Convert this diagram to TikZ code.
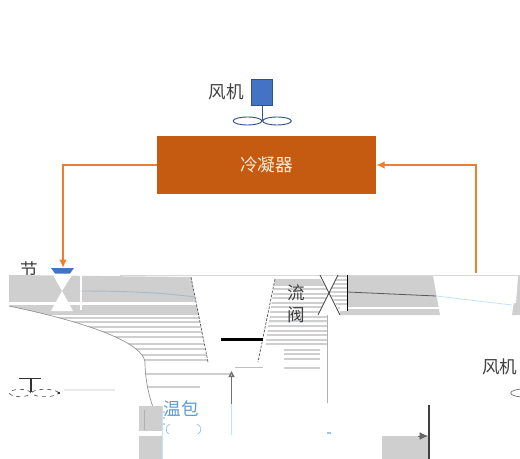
\documentclass[tikz,border=0pt]{standalone}
\usepackage{fontspec}
\setmainfont{Noto Sans CJK SC}
\usetikzlibrary{shapes,arrows.meta}
\definecolor{pipeorange}{HTML}{ED7D31}
\definecolor{condorange}{HTML}{C55A11}
\definecolor{motorblue}{HTML}{4472C4}
\definecolor{edgeblue}{HTML}{2F528F}
\definecolor{bandgray}{HTML}{CFCFCF}
\definecolor{iceblue}{HTML}{BFE3FF}
\definecolor{textblue}{HTML}{5B9BD5}
\begin{document}
\begin{tikzpicture}[x=0.75pt,y=-0.75pt,>={Latex[length=2.2mm,width=2mm]}]
    \tikzset{font={\fontsize{13.2pt}{15}\selectfont}}
    \tikzset{pipe/.style={draw=pipeorange,line width=1.4pt}}
    \tikzset{blade/.style={draw=edgeblue,line width=0.7pt,fill=white}}
    \tikzset{cut/.style={black!70,line width=0.5pt,dash pattern=on 2pt off 1pt}}
    \tikzset{ghost/.style={iceblue,line width=0.6pt}}
    \tikzset{label/.style={text=black!75,inner sep=0pt}}
    \useasboundingbox (0,0) rectangle (520,459);

    % top part
    \node [fill=condorange,minimum width=164.25pt,minimum height=43pt,inner sep=0pt] (cond) at (266.5,165) {};
    \node [text=white!85!orange,inner sep=0pt] (condtxt) at (266.5,165) {冷凝器};
    \node [fill=motorblue,draw=edgeblue,line width=0.4pt,minimum width=15.5pt,minimum height=19.5pt,inner sep=0pt] (motor) at (262,92) {};
    \node [label] (fanlbl) at (226,92) {风机};
    \node [blade,ellipse,minimum width=21.5pt,minimum height=6pt,inner sep=0pt] (bladel) at (247.5,121) {};
    \node [blade,ellipse,minimum width=21.5pt,minimum height=6pt,inner sep=0pt] (blader) at (277,121) {};
    \coordinate (hub) at (262,121);
    \draw [edgeblue,line width=0.7pt] (motor) -- (hub);

    % valve label sits behind the band
    \node [label] (jie) at (29,270) {节};

    % left gray band, cut along the curve
    \begin{scope}
      \clip (9,275) -- (191,277) -- (208,362) -- (231,366) -- (231,400) -- (163,430)
        .. controls (152,410) and (145,385) .. (145,362)
        .. controls (143,345) and (100,325) .. (9,306) -- cycle;
      \fill [bandgray] (9,275) rectangle (200,302);
      \fill [bandgray] (9,305) rectangle (200,315);
      \foreach \yy/\xe in {318/231,322/231,327/231,332/231,337/231,344/231,349/231,355/231,360/231,374/231,387/200,412/165,418/165,424/165}
        \draw [bandgray,line width=1.4pt] (9,\yy) -- (\xe,\yy);
    \end{scope}
    \draw [bandgray!70!black,line width=0.5pt] (9,306) .. controls (100,325) and (143,345) .. (145,362)
      .. controls (145,385) and (152,410) .. (163,430);
    \draw [cut] (191,277) -- (208,362);
    \draw [bandgray!80!white,line width=1.4pt] (120,275.5) -- (520,275.5);
    \draw [white,line width=1pt] (81,275) -- (81,310);
    \draw [iceblue!60!gray,line width=0.7pt] (81,291) .. controls (130,291) and (165,293) .. (195,297);

    % right gray bands
    \begin{scope}
      \clip (275,279) -- (318,276) -- (329,292) -- (318,315) -- (327,315) -- (327,370) -- (262,370) -- cycle;
      \fill [bandgray] (260,279) rectangle (330,286);
      \foreach \yy in {289,294,298,303,307,312,317,321,326,331,335,340,344}
        \draw [bandgray,line width=2pt] (260,\yy) -- (330,\yy);
    \end{scope}
    \foreach \yy in {350,354,359,368}
      \draw [bandgray,line width=0.8pt] (284,\yy) -- (320,\yy);
    \draw [cut] (275,279) -- (258,362);
    \draw [white!70!iceblue,line width=0.7pt] (268,322) -- (327,322);
    \draw [bandgray!85!black,line width=0.8pt] (327.5,315) -- (327.5,403);
    \node [label] (liu) at (296,293) {流};
    \node [label] (fa) at (296,315) {阀};
    \begin{scope}
      \clip (329,292) -- (338,275) -- (348,275) -- (348,311) -- (340,311) -- cycle;
      \foreach \yy in {276,280,284,288,292,296,300,304,308}
        \draw [bandgray,line width=2pt] (325,\yy) -- (348,\yy);
    \end{scope}
    \fill [bandgray] (348,276) -- (433,276) -- (440,315) -- (340,315) -- (340,311) -- (348,311) -- cycle;
    \draw [white,line width=0.8pt] (340,308) -- (439,308);
    \fill [bandgray] (518,276) -- (520,276) -- (520,315) -- (512,315) -- cycle;
    \fill [white] (512,276) -- (518,276) -- (516,303) -- (513,303) -- cycle;
    \draw [black!75,line width=0.6pt] (320,275) -- (340,315);
    \draw [black!75,line width=0.6pt] (338,275) -- (318,315);
    \draw [black,line width=0.8pt] (347.5,275) -- (347.5,311);
    \draw [black!65,line width=0.6pt] (347.5,292) -- (436,296);
    \draw [ghost] (436,296) -- (512,305);

    % left valve and pipes
    \fill [white] (53,275) -- (72,275) -- (62,291) -- (73,311) -- (51,311) -- (62,291) -- cycle;
    \fill [motorblue] (51,268) -- (74,268) -- (70,273.5) -- (55,273.5) -- cycle;
    \coordinate (valve) at (63,268);
    \coordinate (corl) at (63,165);
    \coordinate (corr) at (476,165);
    \coordinate (pipeend) at (476,273);
    \draw [pipe,->] (cond.west |- corl) -- (corl) -- (valve);
    \draw [pipe,->] (pipeend) -- (corr) -- (cond.east |- corr);

    % lower left fan
    \coordinate (shaft) at (31,378);
    \coordinate (shafttip) at (31,392);
    \draw [black!80,line width=0.7pt] (19,378) -- (41,378);
    \draw [black!80,line width=1pt] (shaft) -- (shafttip);
    \node [ellipse,draw=black!65,line width=0.5pt,dashed,minimum width=16pt,minimum height=5.5pt,inner sep=0pt] (fanl) at (20,393) {};
    \node [ellipse,draw=black!65,line width=0.5pt,dashed,minimum width=20pt,minimum height=5.5pt,inner sep=0pt] (fanr) at (45,393) {};
    \fill [black] (59,393) circle (1.2);
    \draw [black!8,line width=1pt] (64,390) -- (115,390);

    % expansion bulb
    \fill [bandgray] (139,406) rectangle (162,459);
    \draw [bandgray!85!black,line width=0.6pt] (144,410) -- (144,430);
    \fill [white] (139,431) rectangle (162,436);
    \draw [ghost] (162,406) -- (162,459);
    \node [text=textblue,inner sep=0pt] (bulb) at (181,409) {温包};
    \draw [iceblue!50!textblue,line width=0.5pt] (170,424) .. controls (165,426) and (165,432) .. (169,434);
    \draw [iceblue!50!textblue,line width=0.5pt] (197,424) .. controls (202,426) and (202,432) .. (198,434);
    \coordinate (senseA) at (231.5,435);
    \coordinate (senseB) at (231.5,404);
    \coordinate (senseC) at (231.5,371);
    \coordinate (senseD) at (263,367);
    \draw [ghost] (senseA) -- (senseB);
    \draw [black!55,line width=1pt,-{Triangle[open,length=1.6mm,width=1.6mm]}] (senseB) -- (senseC);
    \draw [black!25,line width=0.5pt] (235,367) -- (senseD);
    \fill [black] (221,337.5) rectangle (263,340.5);

    % lower right
    \fill [bandgray] (382,436) rectangle (429,459);
    \draw [black!75,line width=0.8pt] (429,405) -- (429,459);
    \draw [black!60,line width=0.5pt,->] (418,436) -- (428,436);
    \node [label,anchor=west] (fanlbl2) at (482,367) {风机};
    \node [ellipse,draw=black!60,line width=0.5pt,minimum width=20pt,minimum height=6pt,inner sep=0pt] (fanarc) at (524,393) {};
    \node [fill=textblue!60,inner sep=0pt,minimum width=3pt,minimum height=1pt] (tick) at (329,433) {};
\end{tikzpicture}
\end{document}
